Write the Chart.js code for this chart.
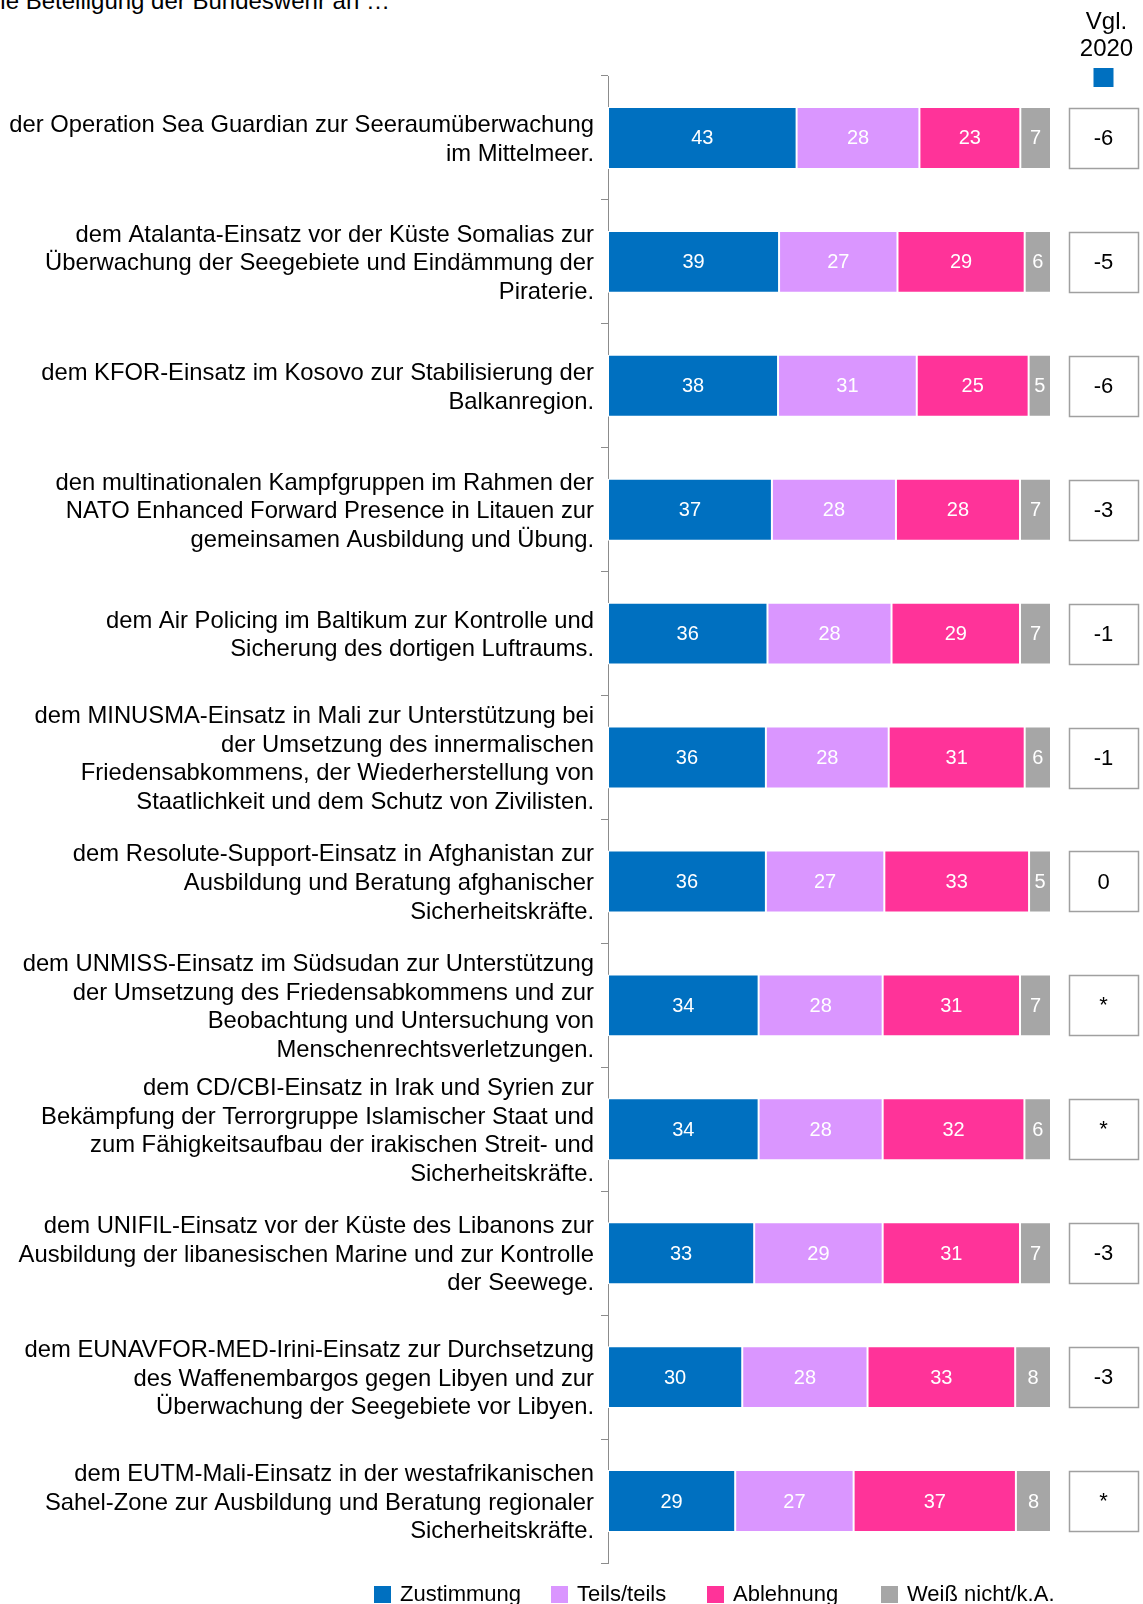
<!DOCTYPE html>
<html>
<head>
<meta charset="utf-8">
<script src="https://cdn.jsdelivr.net/npm/chart.js@4.4.0/dist/chart.umd.min.js"></script>
<style>
  html, body { margin: 0; padding: 0; background: #fff; overflow: hidden; }
  #wrap { position: relative; width: 1143px; height: 1604px; overflow: hidden; font-family: "Liberation Sans", Arial, sans-serif; color: #000; }
  #title { position: absolute; left: -17px; top: -11px; font-size: 24px; line-height: 24px; white-space: nowrap; }
  #chartBox { position: absolute; left: 0; top: 0; }
  #legend { position: absolute; top: 1583px; left: 374px; display: flex; font-size: 22px; line-height: 22px; white-space: nowrap; }
  #legend .item { display: flex; align-items: center; }
  #legend .item:nth-child(1) { width: 177px; }
  #legend .item:nth-child(2) { width: 156px; }
  #legend .item:nth-child(3) { width: 174px; }
  #legend .swatch { width: 17px; height: 17px; margin-right: 9px; }
</style>
</head>
<body>
<div id="wrap">
  <div id="title">Die Beteiligung der Bundeswehr an …</div>
  <div id="chartBox"><canvas id="myChart" width="1143" height="1620"></canvas></div>
  <div id="legend"></div>
</div>
<script>
var categories = [
  ["der Operation Sea Guardian zur Seeraumüberwachung", "im Mittelmeer."],
  ["dem Atalanta-Einsatz vor der Küste Somalias zur", "Überwachung der Seegebiete und Eindämmung der", "Piraterie."],
  ["dem KFOR-Einsatz im Kosovo zur Stabilisierung der", "Balkanregion."],
  ["den multinationalen Kampfgruppen im Rahmen der", "NATO Enhanced Forward Presence in Litauen zur", "gemeinsamen Ausbildung und Übung."],
  ["dem Air Policing im Baltikum zur Kontrolle und", "Sicherung des dortigen Luftraums."],
  ["dem MINUSMA-Einsatz in Mali zur Unterstützung bei", "der Umsetzung des innermalischen", "Friedensabkommens, der Wiederherstellung von", "Staatlichkeit und dem Schutz von Zivilisten."],
  ["dem Resolute-Support-Einsatz in Afghanistan zur", "Ausbildung und Beratung afghanischer", "Sicherheitskräfte."],
  ["dem UNMISS-Einsatz im Südsudan zur Unterstützung", "der Umsetzung des Friedensabkommens und zur", "Beobachtung und Untersuchung von", "Menschenrechtsverletzungen."],
  ["dem CD/CBI-Einsatz in Irak und Syrien zur", "Bekämpfung der Terrorgruppe Islamischer Staat und", "zum Fähigkeitsaufbau der irakischen Streit- und", "Sicherheitskräfte."],
  ["dem UNIFIL-Einsatz vor der Küste des Libanons zur", "Ausbildung der libanesischen Marine und zur Kontrolle", "der Seewege."],
  ["dem EUNAVFOR-MED-Irini-Einsatz zur Durchsetzung", "des Waffenembargos gegen Libyen und zur", "Überwachung der Seegebiete vor Libyen."],
  ["dem EUTM-Mali-Einsatz in der westafrikanischen", "Sahel-Zone zur Ausbildung und Beratung regionaler", "Sicherheitskräfte."]
];

var seriesNames = ["Zustimmung", "Teils/teils", "Ablehnung", "Weiß nicht/k.A."];
var zustimmung = [43, 39, 38, 37, 36, 36, 36, 34, 34, 33, 30, 29];
var teilsTeils = [28, 27, 31, 28, 28, 28, 27, 28, 28, 29, 28, 27];
var ablehnung  = [23, 29, 25, 28, 29, 31, 33, 31, 32, 31, 33, 37];
var weissNicht = [7, 6, 5, 7, 7, 6, 5, 7, 6, 7, 8, 8];
var vgl2020 = ["-6", "-5", "-6", "-3", "-1", "-1", "0", "*", "*", "-3", "-3", "*"];
var colors = ["#0070C0", "#DA96FF", "#FF3399", "#A6A6A6"];

var fontFamily = "'Liberation Sans', Arial, sans-serif";
var series = [zustimmung, teilsTeils, ablehnung, weissNicht];

// each bar is drawn as 100% of its row, the rounded numbers stay as labels
var totals = zustimmung.map(function(v, i) {
  return v + teilsTeils[i] + ablehnung[i] + weissNicht[i];
});

var datasets = series.map(function(values, k) {
  return {
    label: seriesNames[k],
    data: values.map(function(v, i) { return v / totals[i] * 100; }),
    raw: values,
    backgroundColor: colors[k],
    borderColor: "#ffffff",
    borderWidth: 1,
    borderSkipped: false,
    barPercentage: 0.5,
    categoryPercentage: 1
  };
});

// legend as html
var legendEl = document.getElementById("legend");
seriesNames.forEach(function(name, k) {
  var item = document.createElement("div");
  item.className = "item";
  var sw = document.createElement("span");
  sw.className = "swatch";
  sw.style.background = colors[k];
  var txt = document.createElement("span");
  txt.textContent = name;
  item.appendChild(sw);
  item.appendChild(txt);
  legendEl.appendChild(item);
});

var valueLabels = {
  id: "valueLabels",
  afterDatasetsDraw: function(chart) {
    var ctx = chart.ctx;
    ctx.save();
    ctx.font = "20px " + fontFamily;
    ctx.fillStyle = "#ffffff";
    ctx.textAlign = "center";
    ctx.textBaseline = "middle";
    chart.data.datasets.forEach(function(ds, k) {
      var meta = chart.getDatasetMeta(k);
      meta.data.forEach(function(bar, i) {
        ctx.fillText(String(ds.raw[i]), (bar.x + bar.base) / 2, bar.y + 1);
      });
    });
    ctx.restore();
  }
};

var compareColumn = {
  id: "compareColumn",
  afterDraw: function(chart) {
    var ctx = chart.ctx;
    var area = chart.chartArea;
    var left = area.right + 18;
    var w = 69;
    var cx = left + w / 2;
    ctx.save();
    ctx.fillStyle = "#000";
    ctx.textAlign = "center";
    ctx.textBaseline = "middle";
    ctx.font = "24px " + fontFamily;
    ctx.fillText("Vgl.", cx + 3, 22);
    ctx.fillText("2020", cx + 3, 49);
    ctx.fillStyle = colors[0];
    ctx.fillRect(cx - 10, 68, 20, 19);

    var meta = chart.getDatasetMeta(0);
    ctx.font = "22px " + fontFamily;
    meta.data.forEach(function(bar, i) {
      var h = bar.height - 2;
      var top = bar.y - h / 2;
      ctx.fillStyle = "#ffffff";
      ctx.fillRect(left, top, w, h);
      ctx.strokeStyle = "#A0A0A0";
      ctx.lineWidth = 1.5;
      ctx.strokeRect(left + 0.5, Math.round(top) + 0.5, w, Math.round(h));
      ctx.fillStyle = "#000";
      ctx.fillText(vgl2020[i], cx, bar.y + 1);
    });
    ctx.restore();
  }
};

var ctx = document.getElementById("myChart");

var myChart = new Chart(ctx, {
  type: "bar",
  data: {
    labels: categories,
    datasets: datasets
  },
  options: {
    indexAxis: "y",
    responsive: false,
    animation: false,
    layout: {
      padding: { top: 76, right: 92, bottom: 57, left: 0 }
    },
    plugins: {
      legend: { display: false },
      tooltip: { enabled: false }
    },
    scales: {
      x: { stacked: true, display: false, min: 0, max: 100 },
      y: {
        stacked: true,
        afterFit: function(scale) { scale.width = 608; },
        grid: { drawOnChartArea: false, tickLength: 7, color: "#8C8C8C", offset: true },
        border: { color: "#8C8C8C" },
        ticks: {
          color: "#000",
          padding: 7,
          labelOffset: 2,
          autoSkip: false,
          font: { family: fontFamily, size: 23.8, lineHeight: 1.2 }
        }
      }
    }
  },
  plugins: [valueLabels, compareColumn]
});
</script>
</body>
</html>
